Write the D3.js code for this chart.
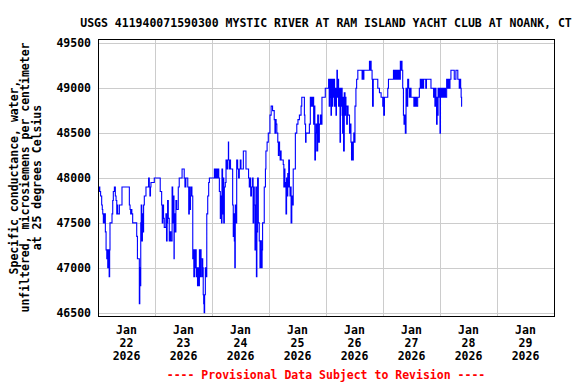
<!DOCTYPE html>
<html><head><meta charset="utf-8">
<script src="https://cdn.jsdelivr.net/npm/d3@7"></script>
<style>
html,body{margin:0;padding:0;background:#fff;}
svg{display:block;}
text{font-family:"DejaVu Sans Mono","Liberation Mono",monospace;font-weight:bold;font-size:11.5px;}
</style></head>
<body>
<svg id="chart" width="576" height="384"></svg>
<script>
const chartTitle = "USGS 411940071590300 MYSTIC RIVER AT RAM ISLAND YACHT CLUB AT NOANK, CT";
const yLabelLines = ["Specific conductance, water,", "unfiltered, microsiemens per centimeter", "at 25 degrees Celsius"];
const footerText = "---- Provisional Data Subject to Revision ----";
const yTicks = [46500, 47000, 47500, 48000, 48500, 49000, 49500];
const dayTicks = ["2026-01-22","2026-01-23","2026-01-24","2026-01-25","2026-01-26","2026-01-27","2026-01-28","2026-01-29"];
const monthLabel = "Jan";
const startTime = "2026-01-22T00:00:00Z";
// [hours since start, specific conductance]
const readings = [
[0,47900],[0.25,47850],[0.5,47900],[0.75,47850],[1.1,47800],[1.55,47700],[1.8,47650],
[2.0,47600],[2.25,47500],[2.5,47600],[2.7,47500],[2.9,47600],[3.1,47400],[3.4,47200],
[3.7,47100],[3.9,47200],[4.1,47000],[4.3,47200],[4.5,47100],[4.7,46900],[4.9,47200],[5.05,47500],
[5.9,47600],[6.2,47750],[6.45,47850],[6.9,47900],[7.3,47800],[7.6,47750],[7.9,47600],[8.1,47700],[8.3,47600],
[9.0,47700],[10.1,47900],[13.2,47700],[13.5,47650],[13.75,47600],[14.0,47650],[14.25,47600],[14.6,47500],
[16.3,47350],[16.6,47100],[17.4,46600],[17.6,47000],[17.8,46800],[18.0,47500],[18.2,47700],[18.45,47300],[18.7,47600],[18.95,47400],[19.2,47700],[19.5,47800],
[20.2,47900],[21.3,48000],[21.6,47900],[21.85,47800],[22.1,47900],[22.3,47950],[23.7,48000],
[26.2,47850],[26.8,47700],[27.05,47500],[27.3,47700],[27.6,47550],[27.9,47450],[28.6,47600],[28.85,47300],[29.1,47500],[29.3,47750],[29.6,47550],[30.0,47300],[30.35,47400],[30.7,47300],
[31.2,47900],[31.45,47500],[31.7,47800],[32.0,47100],[32.1,47600],[32.45,47400],[32.8,47750],[33.15,47650],[33.8,47900],
[34.2,48000],[35.4,48100],[36.3,48000],[36.6,47900],[37.0,48000],[37.8,47900],[38.2,47600],[38.45,47900],[38.7,47650],[38.95,47800],[39.2,47900],[39.55,47800],
[39.9,47100],[40.1,47200],[40.35,46900],[40.6,47200],[40.85,47000],[41.1,47200],[41.35,46900],[41.6,47000],[41.9,46800],[42.2,47000],[42.45,46800],[42.7,47200],[42.95,46900],[43.2,47200],[43.4,47100],[43.7,46900],[43.9,47100],[44.1,47000],[44.3,46700],[44.5,46600],[44.7,46500],[44.9,46700],[45.2,47000],[45.5,46900],[45.8,47600],
[46.2,47800],[46.6,47950],[46.9,48000],[49.0,48100],[49.25,48000],[49.5,48100],[49.75,48000],[50.0,48100],[50.3,48000],[50.6,48100],[50.85,48000],[51.1,47850],[51.5,47550],[51.8,47800],[52.0,47500],[52.2,48100],[52.45,47600],[52.7,48000],[52.95,47500],[53.2,47900],[53.6,47950],
[53.9,48200],[54.3,48100],[54.6,48200],[54.9,48400],[55.0,48200],[55.3,48100],[55.6,48200],[55.8,48100],[56.7,47700],[56.95,47350],[57.2,47600],[57.4,47300],[57.6,47000],[57.8,47700],[58.1,47500],
[58.4,48200],[58.8,48100],[59.2,48000],[59.5,48100],[59.9,48200],[60.2,48100],[61.2,48300],[62.3,48100],[63.4,48000],[63.7,47900],[64.0,48000],[64.3,47800],[64.6,47900],[65.1,48000],[65.3,47500],[65.55,47900],[65.8,47700],[66.1,47200],[66.5,47900],[66.7,46900],[66.9,47400],[67.2,48000],[67.5,47500],[67.9,47300],[68.2,47000],[68.5,47300],[68.8,47000],[69.1,47200],[69.3,47500],
[70.0,47900],[70.5,48100],[70.7,48300],[71.2,48400],[71.7,48500],[72.4,48700],[72.9,48800],[73.5,48750],[74.2,48650],[74.5,48500],[74.75,48650],[75.0,48600],[75.3,48500],[75.7,48400],[75.95,48250],[76.2,48400],[76.45,48300],[76.7,48200],[76.95,48300],[77.1,48200],
[78.0,48150],[78.25,47900],[78.5,48100],[78.7,47900],[78.9,47950],[79.15,47600],[79.4,48000],[79.65,47800],[79.9,48050],[80.1,47900],[80.3,48200],[80.6,47900],[80.85,47800],[81.05,47900],[81.3,47500],[81.6,47800],[81.9,47700],[82.2,48100],
[83.1,48500],[83.7,48600],[84.2,48650],[84.8,48700],[85.5,48800],[85.8,48900],[86.9,48700],[87.1,48600],[87.4,48400],[87.6,48500],[89.0,48600],[89.4,48900],[89.7,48800],[90.0,48900],[90.3,48800],[90.6,48900],[90.8,48600],[91.05,48800],[91.3,48200],[91.55,48500],[91.8,48600],[92.1,48300],[92.5,48700],[92.8,48400],[93.2,48600],[93.6,48700],[93.9,48600],[94.3,48900],
[95.7,49000],[97.1,49100],[97.35,48800],[97.6,49100],[97.85,48900],[98.1,48700],[98.3,49100],[98.6,48800],[98.85,49100],[99.1,48900],[99.35,49100],[99.6,48800],[99.85,49000],[100.2,48700],[100.4,49000],[100.6,49200],[100.8,48900],[101.05,49100],[101.3,48800],[101.6,49000],[101.9,48400],[102.1,49000],[102.3,48800],[102.6,49000],[102.8,48700],[103.0,48500],[103.2,48900],[103.4,48300],[103.7,48950],[104.0,48700],[104.2,48900],
[104.4,48800],[104.7,48600],[105.0,48800],[105.3,48700],[105.6,48700],[105.9,48500],[106.2,48600],[106.5,48400],[106.75,48200],[107.0,48400],[107.25,48200],[107.5,48400],[107.7,48500],[108.0,48400],[108.2,48800],[108.6,49000],[108.9,49100],[109.4,49200],[111.2,49100],[111.45,49200],[111.7,49100],[111.95,49200],
[114.3,49300],[114.55,49200],[114.8,49300],[115.0,49200],[115.4,49100],[115.6,48800],[115.9,49100],[117.8,49000],[118.5,48950],[119.2,48900],[119.9,48800],[120.1,48900],[120.3,48700],[120.6,48900],[122.0,49000],[122.3,49100],
[124.4,49200],[124.65,49100],[124.9,49200],[125.15,49100],[125.4,49200],[125.65,49100],[125.9,49200],[126.2,49100],[126.5,49200],[126.9,49100],[127.3,49300],[127.55,49200],[127.8,49300],[128.0,49200],[128.3,49000],[128.6,48700],[128.85,48600],[129.1,48700],[129.4,48500],[129.7,49000],[130.0,48800],[130.4,49100],[130.8,49000],[131.1,48900],[131.5,49000],[131.8,48900],
[133.0,48800],[133.3,48900],[133.6,48800],[133.85,48900],[134.1,48800],[134.6,48900],[135.3,49000],[135.7,49100],[136.0,49000],[136.4,49100],[136.7,49000],[137.1,49100],[138.0,49000],[138.3,49100],[140.2,49000],[141.3,48900],[141.6,49000],[141.85,48800],[142.1,49000],[142.3,48900],[142.55,48600],[142.8,48900],[143.0,48700],[143.2,49000],[143.45,48900],[143.7,49000],[144.0,48500],[144.2,49000],[144.4,48900],[144.7,49000],[145.0,48900],[145.4,49000],[145.7,48900],[146.0,49000],[146.3,48900],
[146.8,49100],[147.2,49000],[147.5,49100],[147.8,49000],[148.2,49100],[148.6,49200],[150.0,49100],[150.7,49200],[151.5,49100],[152.1,49000],[152.4,49100],[152.7,49000],[152.9,48900],[153.1,48800],[153.3,48800]
];

const svg = d3.select("#chart");
const plot = {left: 98, right: 554, top: 39, bottom: 316};
const t0 = new Date(startTime);
const hourMs = 3600e3;
const x = d3.scaleUtc()
  .domain([t0, new Date(t0.getTime() + 192 * hourMs)])
  .range([plot.left, plot.right]);
const y = d3.scaleLinear().domain([46500, 49500]).range([312.7, 43.3]);

// Gridlines
const dayDates = dayTicks.map(d => new Date(d + "T00:00:00Z"));
svg.append("g").selectAll("line.v").data(dayDates.slice(1)).join("line")
  .attr("x1", d => Math.round(x(d)) + 0.5).attr("x2", d => Math.round(x(d)) + 0.5)
  .attr("y1", plot.top).attr("y2", plot.bottom)
  .attr("stroke", "#cccccc").attr("stroke-width", 1);
svg.append("g").selectAll("line.h").data(yTicks).join("line")
  .attr("x1", plot.left).attr("x2", plot.right)
  .attr("y1", d => Math.round(y(d)) + 0.5).attr("y2", d => Math.round(y(d)) + 0.5)
  .attr("stroke", "#cccccc").attr("stroke-width", 1);

// Data line
const line = d3.line()
  .x(d => x(new Date(t0.getTime() + d[0] * hourMs)))
  .y(d => y(d[1]))
  .curve(d3.curveStepAfter);
svg.append("path").datum(readings)
  .attr("d", line).attr("fill", "none")
  .attr("stroke", "#0000ff").attr("stroke-width", 1.1);

// Frame
svg.append("rect")
  .attr("x", plot.left + 0.5).attr("y", plot.top + 0.5)
  .attr("width", plot.right - plot.left).attr("height", plot.bottom - plot.top)
  .attr("fill", "none").attr("stroke", "#000").attr("stroke-width", 1);

// Y tick labels
svg.append("g").selectAll("text").data(yTicks).join("text")
  .attr("x", 91).attr("y", d => y(d) + 4)
  .attr("text-anchor", "end").attr("fill", "#000")
  .text(d => d);

// X tick labels (at noon of each day)
const xl = svg.append("g").selectAll("g").data(dayDates).join("g")
  .attr("transform", d => `translate(${x(new Date(d.getTime() + 12 * hourMs))},0)`);
xl.append("text").attr("y", 334).attr("text-anchor", "middle").text(monthLabel);
xl.append("text").attr("y", 347).attr("text-anchor", "middle").text(d => d3.utcFormat("%d")(d));
xl.append("text").attr("y", 360).attr("text-anchor", "middle").text(d => d3.utcFormat("%Y")(d));

// Title
svg.append("text").attr("x", 326).attr("y", 27).attr("text-anchor", "middle").text(chartTitle);

// Y axis label
const yc = (plot.top + plot.bottom) / 2;
svg.append("g").selectAll("text").data(yLabelLines).join("text")
  .attr("transform", (d, i) => `translate(${17.5 + i * 11.8},${yc}) rotate(-90)`)
  .attr("text-anchor", "middle").text(d => d);

// Footer
svg.append("text").attr("x", 326).attr("y", 379).attr("text-anchor", "middle")
  .attr("fill", "#ff0000").text(footerText);
</script>
</body></html>
